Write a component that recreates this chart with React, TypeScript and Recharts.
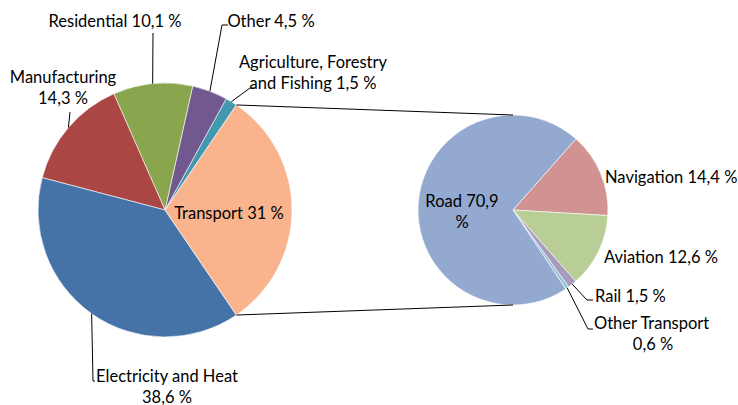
import React from 'react';
import { PieChart, Pie, Cell } from 'recharts';

// main pie (emissions by sector)
const sectorNames = ['Agriculture, Forestry and Fishing', 'Other', 'Residential', 'Manufacturing', 'Electricity and Heat', 'Transport'];
const sectorValues = [1.5, 4.5, 10.1, 14.3, 38.6, 31];
const sectorLabels = [
    ['Agriculture, Forestry', 'and Fishing 1,5 %'],
    ['Other 4,5 %'],
    ['Residential 10,1 %'],
    ['Manufacturing', '14,3 %'],
    ['Electricity and Heat', '38,6 %'],
    ['Transport 31 %'],
];
const sectorColors = ['#4198AF', '#71588F', '#89A54E', '#AA4643', '#4572A7', '#F9B48E'];

// second pie (transport split)
const transportNames = ['Navigation', 'Aviation', 'Rail', 'Other Transport', 'Road'];
const transportValues = [14.4, 12.6, 1.5, 0.6, 70.9];
const transportLabels = [
    ['Navigation 14,4 %'],
    ['Aviation 12,6 %'],
    ['Rail 1,5 %'],
    ['Other Transport', '0,6 %'],
    ['Road 70,9', '%'],
];
const transportColors = ['#D09392', '#B9CD96', '#A99BBD', '#92C3D4', '#93A9CF'];

const sectorData = sectorNames.map((name, i) => ({ name, value: sectorValues[i] }));
const transportData = transportNames.map((name, i) => ({ name, value: transportValues[i] }));

const FONT = 'Lato, sans-serif';
const FS = 16.5;
const RAD = Math.PI / 180;

const left = { cx: 165, cy: 210, r: 127 };
const right = { cx: 513, cy: 210, r: 95 };

// where each label sits and how its leader bends
const sectorLayout = [
    { x: 313, y: 62, anchor: 'middle', leader: [[250, 88], [255, 88]] },
    { x: 271, y: 21, anchor: 'middle', leader: [[222, 25], [228, 25]] },
    { x: 115, y: 21, anchor: 'middle', leader: [[153, 33]] },
    { x: 63, y: 77, anchor: 'middle', leader: [[70, 112]] },
    { x: 167, y: 376, anchor: 'middle', leader: [[93, 381], [95, 381]] },
    { x: 229, y: 213, anchor: 'middle', leader: null },
];
const transportLayout = [
    { x: 605, y: 177, anchor: 'start', leader: null },
    { x: 604, y: 257, anchor: 'start', leader: null },
    { x: 595, y: 296, anchor: 'start', leader: [[587, 300], [593, 300]] },
    { x: 594, y: 323, anchor: 'start', leader: [[588, 329], [593, 329]] },
    { x: 462, y: 201, anchor: 'middle', leader: null },
];

const edge = (cx: number, cy: number, r: number, angle: number) => [
    cx + r * Math.cos(angle * RAD),
    cy - r * Math.sin(angle * RAD),
];

function makeLabel(labels: string[][], layout: any[]) {
    return (props: any) => {
        const { cx, cy, midAngle, outerRadius, index } = props;
        const lay = layout[index];
        const lines = labels[index];
        let leader = null;
        if (lay.leader) {
            const pts = [edge(cx, cy, outerRadius, midAngle), ...lay.leader];
            leader = <polyline points={pts.map((p) => p.join(',')).join(' ')} fill="none" stroke="#000" strokeWidth={1} />;
        }
        // second line of multi-line start-anchored labels is centred under the first
        return (
            <g key={'lbl' + index}>
                {leader}
                {lines.map((t, k) => {
                    let x = lay.x;
                    let anchor = lay.anchor;
                    if (k > 0 && anchor === 'start') {
                        x = lay.x + 59;
                        anchor = 'middle';
                    }
                    return (
                        <text key={k} x={x} y={lay.y + k * 20.5} textAnchor={anchor} dominantBaseline="central"
                            fontFamily={FONT} fontSize={FS} fill="#000">{t}</text>
                    );
                })}
            </g>
        );
    };
}

const sectorLabel = makeLabel(sectorLabels, sectorLayout);

// connector lines from the Transport slice to the second pie
function renderSectorLabel(props: any) {
    const base = sectorLabel(props);
    if (props.index !== sectorNames.length - 1) return base;
    const half = props.percent * 180;
    const top = edge(props.cx, props.cy, props.outerRadius, props.midAngle + half);
    const bot = edge(props.cx, props.cy, props.outerRadius, props.midAngle - half);
    return (
        <g key="conn">
            <line x1={top[0]} y1={top[1]} x2={right.cx} y2={right.cy - right.r} stroke="#000" strokeWidth={1} />
            <line x1={bot[0]} y1={bot[1]} x2={right.cx} y2={right.cy + right.r} stroke="#000" strokeWidth={1} />
            {base}
        </g>
    );
}

const transportLabel = makeLabel(transportLabels, transportLayout);

export default function App() {
    const startLeft = (sectorValues[sectorValues.length - 1] / 100) * 180;
    return (
        <div style={{ position: 'absolute', left: 0, top: 0, background: '#fff' }}>
            <PieChart width={738} height={405} margin={{ top: 0, right: 0, bottom: 0, left: 0 }}>
                <Pie
                    data={sectorData}
                    dataKey="value"
                    nameKey="name"
                    cx={left.cx}
                    cy={left.cy}
                    outerRadius={left.r}
                    startAngle={startLeft}
                    endAngle={startLeft + 360}
                    stroke="#fff"
                    strokeWidth={0.6}
                    label={renderSectorLabel}
                    labelLine={false}
                    isAnimationActive={false}
                >
                    {sectorData.map((d, i) => <Cell key={d.name} fill={sectorColors[i]} />)}
                </Pie>
                <Pie
                    data={transportData}
                    dataKey="value"
                    nameKey="name"
                    cx={right.cx}
                    cy={right.cy}
                    outerRadius={right.r}
                    startAngle={48.5}
                    endAngle={48.5 - 360}
                    stroke="#fff"
                    strokeWidth={0.6}
                    label={transportLabel}
                    labelLine={false}
                    isAnimationActive={false}
                >
                    {transportData.map((d, i) => <Cell key={d.name} fill={transportColors[i]} />)}
                </Pie>
            </PieChart>
        </div>
    );
}
